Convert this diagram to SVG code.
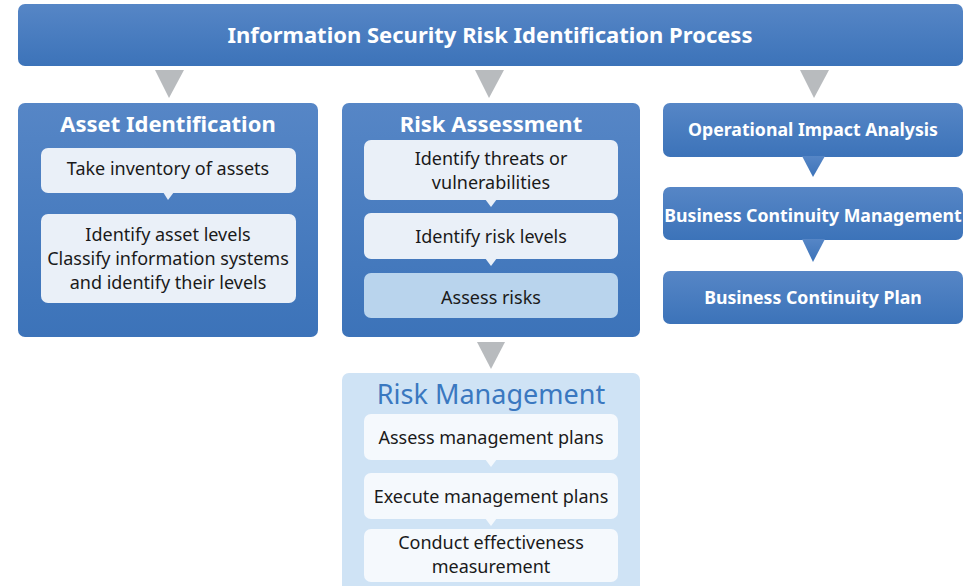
<svg xmlns="http://www.w3.org/2000/svg" width="976" height="586" viewBox="0 0 976 586">
<defs>
<linearGradient id="blue" x1="0" y1="0" x2="0" y2="1">
<stop offset="0" stop-color="#5686c6"/>
<stop offset="1" stop-color="#3c73b9"/>
</linearGradient>
<style>
.box{fill:url(#blue);}
.inner{fill:#eaf0f8;}
.inner2{fill:#f5f9fd;}
.hi{fill:#b9d4ed;}
.arrow{fill:#b8bbbe;}
.t{font-family:"Noto Sans","Open Sans",sans-serif;text-anchor:middle;}
.wb{fill:#ffffff;font-weight:bold;}
.dk{fill:#1a1a1a;font-size:18px;}
</style>
</defs>
<rect width="976" height="586" fill="#ffffff"/>

<g id="title">
<rect class="box" x="18" y="4" width="945" height="62" rx="7"/>
<text class="t wb" x="490" y="43" font-size="22">Information Security Risk Identification Process</text>
</g>

<g id="asset-identification">
<rect class="box" x="18" y="103" width="300" height="234" rx="7"/>
<text class="t wb" x="168" y="132" font-size="22">Asset Identification</text>
<rect class="inner" x="41" y="148" width="255" height="45" rx="7"/>
<text class="t dk" x="168" y="175">Take inventory of assets</text>
<rect class="inner" x="41" y="214" width="255" height="89" rx="7"/>
<text class="t dk" x="168" y="241">Identify asset levels</text>
<text class="t dk" x="168" y="265">Classify information systems</text>
<text class="t dk" x="168" y="289">and identify their levels</text>
</g>

<g id="risk-assessment">
<rect class="box" x="342" y="103" width="298" height="234" rx="7"/>
<text class="t wb" x="491" y="132" font-size="22">Risk Assessment</text>
<rect class="inner" x="364" y="140" width="254" height="60" rx="7"/>
<text class="t dk" x="491" y="165">Identify threats or</text>
<text class="t dk" x="491" y="189">vulnerabilities</text>
<rect class="inner" x="364" y="213" width="254" height="46" rx="7"/>
<text class="t dk" x="491" y="243">Identify risk levels</text>
<rect class="hi" x="364" y="273" width="254" height="45" rx="7"/>
<text class="t dk" x="491" y="304">Assess risks</text>
</g>

<g id="risk-management">
<rect x="342" y="373" width="298" height="230" rx="7" fill="#cfe3f5"/>
<text class="t" x="491" y="404" font-size="27" fill="#3a78c0">Risk Management</text>
<rect class="inner2" x="364" y="414" width="254" height="46" rx="7"/>
<text class="t dk" x="491" y="444">Assess management plans</text>
<rect class="inner2" x="364" y="473" width="254" height="46" rx="7"/>
<text class="t dk" x="491" y="503">Execute management plans</text>
<rect class="inner2" x="364" y="529" width="254" height="53" rx="7"/>
<text class="t dk" x="491" y="549">Conduct effectiveness</text>
<text class="t dk" x="491" y="573">measurement</text>
</g>

<g id="operational-impact-analysis">
<rect class="box" x="663" y="103" width="300" height="54" rx="7"/>
<text class="t wb" x="813" y="136" font-size="17.7">Operational Impact Analysis</text>
</g>
<g id="business-continuity-management">
<rect class="box" x="663" y="187" width="300" height="53" rx="7"/>
<text class="t wb" x="813" y="222" font-size="17.7">Business Continuity Management</text>
</g>
<g id="business-continuity-plan">
<rect class="box" x="663" y="271" width="300" height="53" rx="7"/>
<text class="t wb" x="813" y="304" font-size="17.7">Business Continuity Plan</text>
</g>

<g id="connectors">
<polygon class="arrow" points="155,70 184,70 169,98"/>
<polygon class="arrow" points="475,70 504,70 489,98"/>
<polygon class="arrow" points="800,70 829,70 814,98"/>
<polygon class="arrow" points="477,342 505,342 491,369"/>
<polygon class="inner" points="163,192 174,192 168,200"/>
<polygon class="inner" points="485,199 497,199 491,207"/>
<polygon class="inner" points="485,258 497,258 491,266"/>
<polygon class="inner2" points="485,459 497,459 491,467"/>
<polygon class="inner2" points="485,518 497,518 491,526"/>
<polygon class="box" points="802,156 825,156 813,177"/>
<polygon class="box" points="802,239 825,239 813,262"/>
</g>
</svg>
